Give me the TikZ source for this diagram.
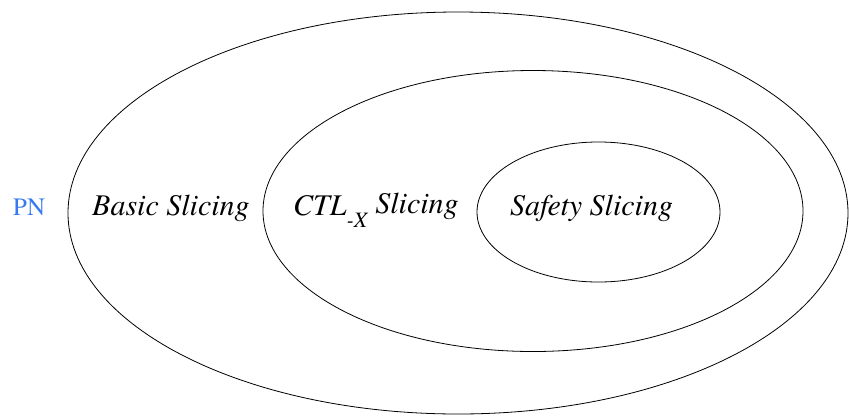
\documentclass[tikz,border=0pt]{standalone}
\usepackage{fontspec}
\setmainfont{texgyretermes}[Extension=.otf,UprightFont=*-regular,ItalicFont=*-italic,BoldFont=*-bold,BoldItalicFont=*-bolditalic]
\usetikzlibrary{shapes.geometric}
\definecolor{pnblue}{RGB}{58,122,240}
\begin{document}
\begin{tikzpicture}[x=1pt,y=-1pt,
  region/.style={draw=black,line width=0.8pt,ellipse,inner sep=0pt},
  label/.style={font=\fontsize{30}{34}\selectfont\itshape,inner sep=0pt,anchor=base west}]
\useasboundingbox (0,0) rectangle (849,416);
% nested regions
\node[region,minimum width=780pt,minimum height=402pt] (outer) at (458,213) {};
\node[region,minimum width=540pt,minimum height=281pt] (middle) at (533,211) {};
\node[region,minimum width=243pt,minimum height=140pt] (inner) at (598.5,212) {};
% labels
\node[font=\fontsize{25}{28}\selectfont,text=pnblue,inner sep=0pt,anchor=base west] (pn) at (13,215) {PN};
\node[label] (basic) at (92,215) {Basic Slicing};
\node[label] (ctl) at (293,215) {CTL\raisebox{-12pt}{\fontsize{22}{25}\selectfont-X}\hspace{8pt}\raisebox{2pt}{Slicing}};
\node[label] (safety) at (510,215) {Safety Slicing};
\end{tikzpicture}
\end{document}
